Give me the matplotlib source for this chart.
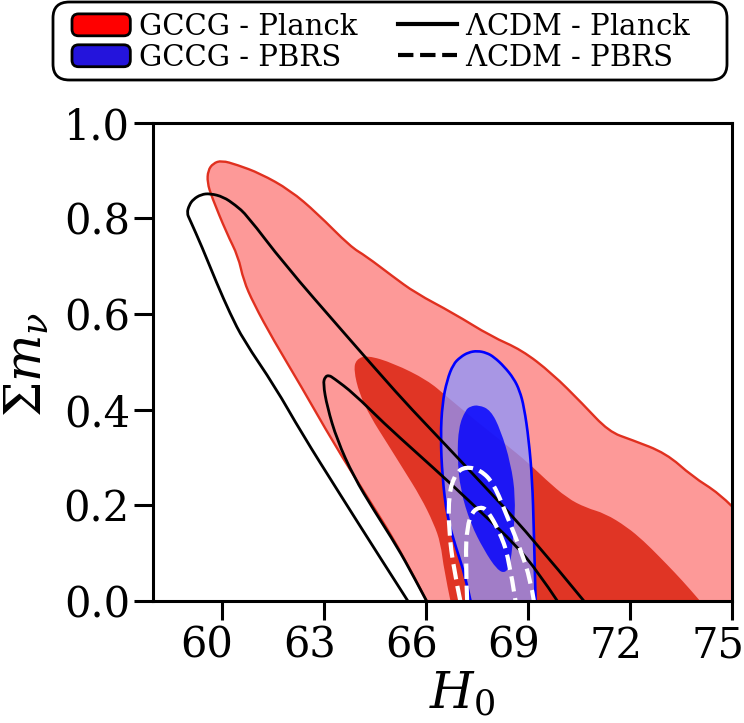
import matplotlib
matplotlib.use("Agg")
import matplotlib.pyplot as plt
from matplotlib.patches import Patch, FancyBboxPatch, PathPatch
from matplotlib.path import Path
from matplotlib.lines import Line2D
from matplotlib.legend_handler import HandlerPatch
from matplotlib.transforms import ScaledTranslation

plt.rcParams["font.family"] = ["DejaVu Serif"]
plt.rcParams["mathtext.fontset"] = "dejavuserif"

# GCCG - Planck, outer (2 sigma) contour, open at the bottom / right edge
gccg_planck_2s_h0 = [66.02, 65.25, 64.27, 63.29, 62.31, 61.52, 60.94, 60.64, 60.49, 60.15,
                     59.71, 59.58, 59.60, 59.75, 60.00, 60.45, 61.13, 62.01, 62.80, 63.78,
                     64.24, 65.00, 65.69, 66.80, 67.92, 68.81, 69.70, 70.59, 71.37, 72.04,
                     73.05, 73.83, 74.61, 75.00]
gccg_planck_2s_mnu = [0.000, 0.107, 0.218, 0.330, 0.452, 0.546, 0.622, 0.671, 0.720, 0.769,
                      0.845, 0.875, 0.900, 0.915, 0.921, 0.912, 0.894, 0.859, 0.811, 0.741,
                      0.721, 0.680, 0.644, 0.602, 0.553, 0.525, 0.476, 0.413, 0.354, 0.337,
                      0.309, 0.260, 0.225, 0.197]

# GCCG - Planck, inner (1 sigma)
gccg_planck_1s_h0 = [66.72, 66.53, 66.43, 66.23, 65.84, 65.35, 64.86, 64.37, 64.04, 63.88,
                     63.95, 64.27, 65.05, 66.04, 66.62, 67.50, 68.30, 69.02, 69.50, 70.15,
                     70.70, 71.26, 71.90, 72.40, 72.85, 73.30, 73.75, 74.05]
gccg_planck_1s_mnu = [0.000, 0.065, 0.121, 0.162, 0.218, 0.274, 0.330, 0.385, 0.434, 0.483,
                      0.505, 0.514, 0.497, 0.462, 0.427, 0.375, 0.330, 0.288, 0.255, 0.215,
                      0.195, 0.183, 0.155, 0.125, 0.093, 0.060, 0.025, 0.000]

# GCCG - PBRS
gccg_pbrs_2s_h0 = [67.31, 67.16, 66.87, 66.62, 66.48, 66.43, 66.48, 66.62, 66.80, 67.01,
                   67.25, 67.51, 67.78, 68.00, 68.30, 68.58, 68.75, 68.88, 69.02, 69.12,
                   69.17, 69.22]
gccg_pbrs_2s_mnu = [0.000, 0.051, 0.114, 0.176, 0.260, 0.344, 0.413, 0.462, 0.495, 0.510,
                    0.520, 0.523, 0.519, 0.510, 0.490, 0.465, 0.440, 0.406, 0.337, 0.253,
                    0.148, 0.000]
gccg_pbrs_1s_h0 = [67.55, 67.30, 67.16, 66.96, 66.92, 67.01, 67.31, 67.70, 68.09, 68.34,
                   68.49, 68.58, 68.63, 68.49, 68.19, 67.90]
gccg_pbrs_1s_mnu = [0.410, 0.407, 0.399, 0.364, 0.302, 0.232, 0.162, 0.107, 0.065, 0.058,
                    0.079, 0.148, 0.218, 0.288, 0.358, 0.399]

# LCDM - Planck
lcdm_planck_2s_h0 = [65.47, 64.58, 63.46, 62.35, 61.57, 60.64, 60.25, 59.86, 59.42, 59.07,
                     58.98, 59.05, 59.17, 59.40, 59.66, 60.05, 60.40, 60.74, 61.82, 63.60,
                     65.20, 66.02, 66.62, 67.36, 69.03, 70.64]
lcdm_planck_2s_mnu = [0.000, 0.099, 0.225, 0.351, 0.448, 0.546, 0.601, 0.664, 0.741, 0.797,
                      0.811, 0.828, 0.840, 0.850, 0.852, 0.845, 0.828, 0.807, 0.706, 0.560,
                      0.430, 0.368, 0.323, 0.267, 0.140, 0.000]
lcdm_planck_1s_h0 = [66.02, 65.64, 65.15, 64.47, 63.88, 63.39, 63.10, 62.98, 63.04, 63.15,
                     63.29, 63.88, 64.76, 65.74, 66.72, 67.70, 68.60, 69.30, 69.86]
lcdm_planck_1s_mnu = [0.000, 0.051, 0.114, 0.190, 0.260, 0.337, 0.406, 0.455, 0.469, 0.472,
                      0.466, 0.434, 0.372, 0.309, 0.246, 0.180, 0.120, 0.060, 0.000]

# LCDM - PBRS
lcdm_pbrs_2s_h0 = [67.01, 66.82, 66.67, 66.67, 66.87, 67.16, 67.60, 67.99, 68.39, 68.78,
                   69.07, 69.17]
lcdm_pbrs_2s_mnu = [0.000, 0.065, 0.148, 0.225, 0.267, 0.281, 0.274, 0.246, 0.176, 0.107,
                    0.044, 0.000]
lcdm_pbrs_1s_h0 = [67.21, 67.16, 67.21, 67.36, 67.60, 67.80, 68.14, 68.43, 68.63]
lcdm_pbrs_1s_mnu = [0.000, 0.093, 0.155, 0.187, 0.197, 0.190, 0.148, 0.093, 0.000]

xticks = [60, 63, 66, 69, 72, 75]
yticks = [0.0, 0.2, 0.4, 0.6, 0.8, 1.0]

light_red = "#fd9998"
dark_red = "#e03525"


def smooth_path(xs, ys, closed=False, tail=None):
    # quadratic bezier through midpoints, read points used as control points
    pts = list(zip(xs, ys))
    mid = lambda a, b: ((a[0] + b[0]) / 2, (a[1] + b[1]) / 2)
    verts, codes = [], []
    if closed:
        n = len(pts)
        verts.append(mid(pts[-1], pts[0]))
        codes.append(Path.MOVETO)
        for i in range(n):
            verts += [pts[i], mid(pts[i], pts[(i + 1) % n])]
            codes += [Path.CURVE3, Path.CURVE3]
        verts.append(verts[0])
        codes.append(Path.CLOSEPOLY)
    else:
        verts.append(pts[0])
        codes.append(Path.MOVETO)
        for i in range(1, len(pts) - 2):
            verts += [pts[i], mid(pts[i], pts[i + 1])]
            codes += [Path.CURVE3, Path.CURVE3]
        verts += [pts[-2], pts[-1]]
        codes += [Path.CURVE3, Path.CURVE3]
        if tail is not None:
            for p in tail:
                verts.append(p)
                codes.append(Path.LINETO)
            verts.append(pts[0])
            codes.append(Path.CLOSEPOLY)
    return Path(verts, codes)


fig = plt.figure(figsize=(7.44, 7.23), dpi=100)
ax = fig.add_axes([0.2063, 0.1687, 0.7782, 0.6616])

# red: GCCG - Planck
ax.add_patch(PathPatch(smooth_path(gccg_planck_2s_h0, gccg_planck_2s_mnu, tail=[(75.0, 0.0)]),
                       facecolor=light_red, lw=0, zorder=1))
ax.add_patch(PathPatch(smooth_path(gccg_planck_2s_h0, gccg_planck_2s_mnu),
                       fill=False, edgecolor="#e0301f", lw=1.7, zorder=1.5))
ax.add_patch(PathPatch(smooth_path(gccg_planck_1s_h0, gccg_planck_1s_mnu, tail=[]),
                       facecolor=dark_red, lw=0, zorder=2))

# blue: GCCG - PBRS
ax.add_patch(PathPatch(smooth_path(gccg_pbrs_2s_h0, gccg_pbrs_2s_mnu, tail=[]),
                       facecolor="#8c96ff", alpha=0.75, lw=0, zorder=3))
ax.add_patch(PathPatch(smooth_path(gccg_pbrs_1s_h0, gccg_pbrs_1s_mnu, closed=True),
                       facecolor="#0000ff", alpha=0.82, lw=0, zorder=4))
ax.add_patch(PathPatch(smooth_path(gccg_pbrs_2s_h0, gccg_pbrs_2s_mnu),
                       fill=False, edgecolor="#0000ff", lw=1.9, zorder=4.5))

# LCDM lines
for h0, mnu in [(lcdm_planck_2s_h0, lcdm_planck_2s_mnu), (lcdm_planck_1s_h0, lcdm_planck_1s_mnu)]:
    ax.add_patch(PathPatch(smooth_path(h0, mnu), fill=False, edgecolor="black", lw=2,
                           joinstyle="round", zorder=6))
for h0, mnu in [(lcdm_pbrs_2s_h0, lcdm_pbrs_2s_mnu), (lcdm_pbrs_1s_h0, lcdm_pbrs_1s_mnu)]:
    ax.add_patch(PathPatch(smooth_path(h0, mnu), fill=False, edgecolor="white", lw=3,
                           linestyle="--", zorder=7))

ax.set_xlim(58, 75)
ax.set_ylim(0, 1.0)
ax.set_xticks(xticks)
ax.set_yticks(yticks)
ax.set_yticklabels([f"{v:.1f}" for v in yticks])
ax.tick_params(direction="out", length=14, width=2.2, labelsize=30, pad=3)
shift = ScaledTranslation(-14.5 / 100, 0, fig.dpi_scale_trans)
for lab in ax.get_xticklabels():
    lab.set_transform(lab.get_transform() + shift)
for s in ax.spines.values():
    s.set_linewidth(2.2)
    s.set_zorder(10)

ax.set_xlabel(r"$H_0$", fontsize=36)
ax.xaxis.set_label_coords(0.533, -0.145)
ax.set_ylabel(r"$\Sigma m_\nu$", fontsize=36)
ax.yaxis.set_label_coords(-0.175, 0.495)


def rounded_patch(legend, orig_handle, xdescent, ydescent, width, height, fontsize):
    return FancyBboxPatch((-xdescent, -ydescent), width, height,
                          boxstyle="round,pad=0,rounding_size=%f" % (0.3 * height))


handles = [
    Patch(facecolor="#ff0000", edgecolor="black", lw=2, label="GCCG - Planck"),
    Patch(facecolor="#2414dc", edgecolor="black", lw=2, label="GCCG - PBRS"),
    Line2D([], [], color="black", lw=3, label=r"$\Lambda$CDM - Planck"),
    Line2D([], [], color="black", lw=3, ls="--", label=r"$\Lambda$CDM - PBRS"),
]
leg = fig.legend(handles=handles, ncol=2, loc="upper left", bbox_to_anchor=(72 / 744, 1 - 13 / 723),
                 fontsize=21, handlelength=2.0, handleheight=0.78, handletextpad=0.3,
                 columnspacing=1.4, labelspacing=0.1, borderpad=0, borderaxespad=0,
                 frameon=False,
                 handler_map={Patch: HandlerPatch(patch_func=rounded_patch)})

# legend frame drawn as its own rounded box
box = FancyBboxPatch((53 / 744, 1 - 80 / 723), 674 / 744, 78 / 723,
                     boxstyle="round,pad=0,rounding_size=0.022", transform=fig.transFigure,
                     facecolor="white", edgecolor="black", lw=2, zorder=0)
fig.patches.append(box)

fig.savefig("out.png", dpi=100)
